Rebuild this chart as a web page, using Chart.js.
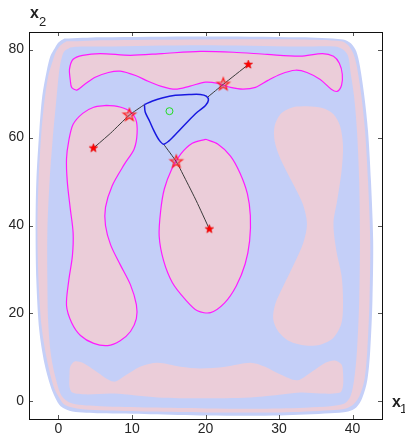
<!DOCTYPE html>
<html>
<head>
<meta charset="utf-8">
<script src="https://cdn.jsdelivr.net/npm/chart.js@4.4.1/dist/chart.umd.min.js"></script>
<style>
html, body { margin: 0; padding: 0; background: #fff; }
</style>
</head>
<body>
<canvas id="c" width="405" height="435"></canvas>
<script>
// ---- data (x1, x2 pairs) ----
var outerEdge = [[0.8,82.5],[0.0,81.6],[-0.5,80.3],[-1.1,78.5],[-1.6,75.1],[-2.2,69.4],[-2.6,61.5],[-3.0,50.1],[-3.1,38.8],[-3.0,27.4],[-2.6,16.1],[-1.9,8.6],[-1.1,3.6],[-0.4,0.7],[0.3,-1.1],[1.9,-2.3],[5.7,-2.7],[12.5,-2.9],[20.1,-3.2],[30.2,-3.2],[37.0,-2.7],[39.4,-2.3],[40.5,-1.4],[41.3,0.7],[42.0,4.8],[42.4,11.6],[42.7,22.9],[42.8,36.5],[42.5,50.1],[42.1,61.5],[41.6,69.4],[41.0,76.2],[40.5,79.6],[39.8,81.4],[38.7,82.3],[32.9,82.8],[19.3,83.0],[5.7,82.8]];
var ringEdge = [[1.1,81.9],[0.3,81.0],[-0.3,79.6],[-0.8,77.3],[-1.4,73.9],[-1.9,68.3],[-2.3,61.5],[-2.7,50.1],[-2.85,38.8],[-2.7,27.4],[-2.3,17.2],[-1.6,9.8],[-0.7,3.6],[0.0,1.1],[0.8,-0.7],[2.5,-1.6],[5.7,-2.0],[12.5,-2.3],[20.1,-2.5],[30.2,-2.5],[37.0,-2.0],[39.1,-1.6],[40.1,-0.7],[40.9,1.1],[41.6,4.8],[42.0,11.6],[42.3,22.9],[42.4,36.5],[42.1,50.1],[41.7,61.5],[41.2,69.4],[40.6,76.0],[40.1,79.1],[39.4,81.0],[38.5,81.9],[32.9,82.3],[19.3,82.3],[5.7,82.1],[2.5,81.9]];
var innerEdge = [[1.6,80.5],[0.8,79.6],[0.4,77.8],[0.1,75.1],[-0.3,68.3],[-0.8,59.2],[-1.2,50.1],[-1.5,38.8],[-1.5,27.4],[-1.4,18.4],[-1.0,10.4],[-0.3,4.8],[0.5,1.1],[1.9,-0.5],[5.7,-1.1],[12.5,-1.4],[20.1,-1.6],[30.2,-1.6],[37.0,-1.1],[38.9,-0.5],[39.7,1.1],[40.2,4.8],[40.6,11.6],[40.9,22.9],[41.0,36.5],[40.9,50.1],[40.6,61.5],[40.2,69.4],[39.7,75.1],[39.4,78.5],[38.7,80.0],[37.6,80.7],[32.9,80.7],[19.3,81.0],[5.7,80.7],[3.0,80.7]];
var bottomLobe = [[1.5,5.9],[1.6,7.9],[2.2,9.1],[3.3,8.8],[5.0,7.0],[7.5,4.5],[9.1,5.9],[11.1,7.9],[13.5,8.8],[16.6,7.9],[19.3,7.5],[22.7,7.9],[26.1,8.8],[28.1,7.9],[30.2,6.1],[32.5,4.8],[34.5,6.8],[36.3,8.8],[37.6,9.3],[38.5,8.4],[38.7,6.6],[38.7,3.6],[38.3,2.0],[35.6,1.8],[32.9,2.0],[29.5,1.4],[26.1,0.9],[19.3,0.7],[13.5,0.9],[7.5,1.8],[3.7,1.6],[1.9,2.0],[1.5,3.4]];
var rightLobe = [[33.8,67.1],[35.9,66.7],[37.4,65.3],[38.3,62.6],[38.7,58.0],[38.5,52.4],[37.9,45.6],[37.4,40.4],[37.8,34.2],[38.5,28.6],[38.7,22.9],[38.5,17.9],[37.4,14.5],[35.6,12.9],[33.6,12.7],[31.5,13.6],[29.9,15.9],[29.2,18.8],[29.5,22.2],[30.6,26.3],[32.1,31.5],[33.3,36.1],[33.8,40.4],[33.2,45.0],[31.7,50.1],[30.2,55.1],[29.4,59.2],[29.4,62.6],[30.3,65.5],[31.9,66.9]];
var leftLobe = [[6.5,67.3],[8.0,67.1],[9.5,66.2],[10.5,64.2],[10.7,61.0],[10.3,57.4],[9.0,54.0],[7.3,49.0],[6.4,44.1],[6.4,40.0],[7.1,35.6],[8.4,31.1],[9.8,26.5],[10.6,22.0],[10.6,18.8],[9.8,15.9],[8.4,13.8],[6.7,12.7],[4.8,13.2],[3.0,15.0],[1.8,17.9],[1.1,21.8],[1.4,27.4],[1.9,33.1],[2.0,38.3],[1.6,44.0],[1.2,50.1],[1.1,55.1],[1.4,59.2],[2.0,63.0],[3.3,65.5],[4.8,66.9]];
var middleLobe = [[20.0,59.6],[21.7,58.5],[23.4,55.8],[24.7,51.9],[25.7,47.2],[26.1,42.2],[26.0,36.5],[25.4,31.3],[24.2,26.3],[22.6,22.4],[20.7,20.2],[18.9,20.6],[17.3,23.1],[15.5,27.0],[14.3,32.0],[13.7,37.6],[13.9,43.3],[14.4,48.3],[15.4,52.8],[16.6,56.2],[18.2,58.7]];
var topLobe = [[1.6,73.2],[1.5,75.5],[2.0,77.8],[3.3,78.7],[5.7,79.1],[9.8,78.7],[14.1,79.1],[19.3,79.6],[23.8,79.4],[28.4,78.9],[32.9,78.5],[35.9,79.1],[37.4,78.5],[38.2,76.9],[38.6,74.4],[38.5,71.9],[37.9,70.5],[37.1,71.0],[35.6,73.2],[33.8,74.8],[32.2,75.3],[30.2,74.4],[28.5,73.0],[26.8,71.4],[25.1,71.0],[23.4,71.4],[21.7,72.3],[20.0,72.6],[17.9,71.7],[15.9,71.0],[13.9,71.7],[12.2,72.8],[10.5,74.1],[8.4,75.1],[6.8,74.8],[5.0,73.7],[3.5,72.0],[2.5,70.8],[1.8,71.4]];
var feasibleLoop = [[11.7,67.5],[12.8,68.3],[14.1,69.0],[15.9,69.6],[17.9,69.8],[19.3,69.8],[20.1,69.4],[20.4,68.5],[20.0,67.3],[18.9,65.8],[17.5,63.5],[16.2,61.2],[15.0,59.2],[14.3,58.5],[13.7,59.4],[13.0,61.5],[12.4,63.7],[11.8,65.8]];
var pathLeft = [[4.76,57.6],[7.1,61.0],[9.65,65.1],[11.7,67.5]];
var pathTop = [[20.3,69.2],[22.42,72.1],[25.82,76.6]];
var pathDown = [[14.3,58.5],[16.03,54.5],[17.4,50.1],[18.75,45.6],[20.52,39.2]];
var startStars = [[4.76,57.6],[25.82,76.6],[20.52,39.2]];
var hitStars = [[9.65,65.1],[22.42,72.1],[16.03,54.5]];
var centre = [[15.1,66.0]];

var xTicks = [0, 10, 20, 30, 40];
var yTicks = [0, 20, 40, 60, 80];

var BLUE = '#c4cff8';
var PINK = '#ebcdd9';
var MAG = '#ff1aff';

function pts(a) { return a.map(function (p) { return {x: p[0], y: p[1]}; }); }
function closed(a) { return pts(a.concat([a[0]])); }

function area(a, color, order, edge) {
  return {
    data: closed(a), showLine: true, fill: 'shape',
    backgroundColor: color,
    borderColor: edge || 'rgba(0,0,0,0)', borderWidth: edge ? 1.2 : 1,
    pointRadius: 0, tension: 0.3, order: order
  };
}
function line(a, color, w, order) {
  return { data: pts(a), showLine: true, fill: false, borderColor: color, borderWidth: w,
           pointRadius: 0, tension: 0.2, order: order };
}

function makeStar(r, fill, stroke, lw) {
  var size = Math.ceil(r * 2 + lw * 2 + 2);
  var cv = document.createElement('canvas');
  cv.width = cv.height = size;
  var g = cv.getContext('2d');
  var c = size / 2;
  g.beginPath();
  for (var i = 0; i < 10; i++) {
    var rr = i % 2 ? r * 0.42 : r;
    var ang = -Math.PI / 2 + i * Math.PI / 5;
    g.lineTo(c + rr * Math.cos(ang), c + rr * Math.sin(ang));
  }
  g.closePath();
  if (fill) { g.fillStyle = fill; g.fill(); }
  if (stroke) { g.strokeStyle = stroke; g.lineWidth = lw; g.stroke(); }
  return cv;
}

// inward MATLAB-like ticks, box and axis names
var boxPlugin = {
  id: 'box',
  afterDraw: function (chart) {
    var ctx = chart.ctx, a = chart.chartArea, sx = chart.scales.x, sy = chart.scales.y;
    ctx.save();
    ctx.strokeStyle = '#555';
    ctx.lineWidth = 1;
    ctx.beginPath();
    xTicks.forEach(function (v) {
      var px = Math.round(sx.getPixelForValue(v)) + 0.5;
      ctx.moveTo(px, a.bottom); ctx.lineTo(px, a.bottom - 4);
      ctx.moveTo(px, a.top); ctx.lineTo(px, a.top + 4);
    });
    yTicks.forEach(function (v) {
      var py = Math.round(sy.getPixelForValue(v)) + 0.5;
      ctx.moveTo(a.left, py); ctx.lineTo(a.left + 4, py);
      ctx.moveTo(a.right, py); ctx.lineTo(a.right - 4, py);
    });
    ctx.stroke();
    ctx.strokeStyle = '#111';
    ctx.strokeRect(a.left + 0.5, a.top + 0.5, a.right - a.left, a.bottom - a.top);

    ctx.fillStyle = '#222';
    ctx.textBaseline = 'alphabetic';
    ctx.font = 'bold 16px "Liberation Sans", Arial, sans-serif';
    ctx.fillText('x', 392, 407);
    ctx.fillText('x', 30, 18);
    ctx.font = '13px "Liberation Sans", Arial, sans-serif';
    ctx.fillText('1', 400, 413);
    ctx.fillText('2', 39, 26);
    ctx.restore();
  }
};

var tickFont = {family: '"Liberation Sans", Arial, sans-serif', size: 14};

new Chart(document.getElementById('c'), {
  type: 'scatter',
  data: {
    datasets: [
      area(outerEdge, BLUE, 20),
      area(ringEdge, PINK, 19),
      area(innerEdge, BLUE, 18),
      area(bottomLobe, PINK, 17),
      area(rightLobe, PINK, 17),
      area(leftLobe, PINK, 16, MAG),
      area(middleLobe, PINK, 16, MAG),
      area(topLobe, PINK, 16, MAG),
      line(pathLeft, '#3a3a3a', 1, 10),
      line(pathTop, '#3a3a3a', 1, 10),
      line(pathDown, '#3a3a3a', 1, 10),
      { data: closed(feasibleLoop), showLine: true, fill: false, borderColor: '#1818e0',
        borderWidth: 1.5, pointRadius: 0, tension: 0.3, order: 8 },
      { data: pts(hitStars), showLine: false, pointRadius: 6,
        pointStyle: makeStar(6.5, 'rgba(200,40,60,0.3)', '#ff2020', 1.2), order: 3 },
      { data: pts(startStars), showLine: false, pointRadius: 5,
        pointStyle: makeStar(4.5, '#ff0000', '#e00000', 0.6), order: 2 },
      { data: pts(centre), showLine: false, pointRadius: 3.5, pointStyle: 'circle',
        backgroundColor: 'rgba(0,0,0,0)', borderColor: '#22dd22', borderWidth: 1, order: 1 }
    ]
  },
  options: {
    responsive: false,
    animation: false,
    events: [],
    layout: { padding: { top: 32, right: 23, left: 0, bottom: 0 } },
    plugins: { legend: { display: false }, tooltip: { enabled: false } },
    scales: {
      x: {
        type: 'linear', min: -4, max: 44,
        grid: { display: false, drawTicks: false }, border: { display: false },
        ticks: { stepSize: 10, includeBounds: false, font: tickFont, color: '#262626', padding: 2, maxRotation: 0 },
        afterFit: function (s) { s.height = 16; }
      },
      y: {
        type: 'linear', min: -4, max: 84,
        grid: { display: false, drawTicks: false }, border: { display: false },
        ticks: { stepSize: 20, includeBounds: false, font: tickFont, color: '#262626', padding: 5 },
        afterFit: function (s) { s.width = 29; }
      }
    }
  },
  plugins: [boxPlugin]
});
</script>
</body>
</html>
